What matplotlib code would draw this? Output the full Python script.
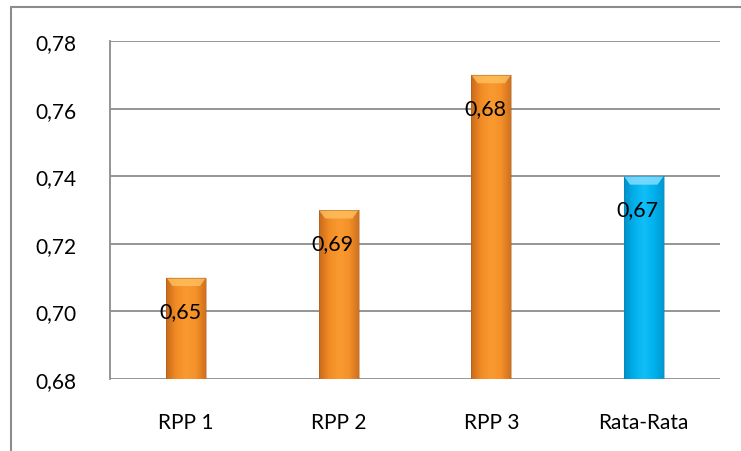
import numpy as np
import matplotlib
matplotlib.use("Agg")
import matplotlib.pyplot as plt
from matplotlib.patches import Rectangle, Polygon
from matplotlib.colors import LinearSegmentedColormap

# --- Data ---
categories = ["RPP 1", "RPP 2", "RPP 3", "Rata-Rata"]
bar_values = [0.71, 0.73, 0.77, 0.74]
label_texts = ["0,65", "0,69", "0,68", "0,67"]
yticks = [0.68, 0.70, 0.72, 0.74, 0.76, 0.78]

plt.rcParams["font.family"] = ["Lato", "DejaVu Sans"]

fig = plt.figure(figsize=(7.41, 4.52), dpi=100)
fig.patch.set_facecolor("white")

# --- Outer chart border ---
fig.patches.append(Rectangle((11 / 741, -0.05), 1.2, 1 - 8 / 452 + 0.05,
                             transform=fig.transFigure, fill=False,
                             edgecolor="#8c8c8c", linewidth=1.5))

ax = fig.add_axes([110 / 741, 72 / 452, 610 / 741, 338 / 452])

x = np.arange(len(categories))
width = 0.26
bars = ax.bar(x, [v - 0.68 for v in bar_values], width, bottom=0.68,
              color="none", edgecolor="none", zorder=3)

orange = LinearSegmentedColormap.from_list(
    "orange", ["#c86a1c", "#f28c24", "#f99a30", "#f5922a", "#d0701e"])
blue = LinearSegmentedColormap.from_list(
    "blue", ["#0090c8", "#00b0ec", "#12bef6", "#00b2ef", "#0098cf"])
grad = np.linspace(0, 1, 64).reshape(1, -1)

for i, (b, v) in enumerate(zip(bars, bar_values)):
    cmap = blue if i == len(bars) - 1 else orange
    x0, x1 = b.get_x(), b.get_x() + b.get_width()
    im = ax.imshow(grad, cmap=cmap, aspect="auto", extent=[x0, x1, 0.68, v],
                   zorder=3, interpolation="bicubic")
    im.set_clip_path(b)
    # lighter bevel at the top of each bar
    top_col = "#8ee0ff" if i == len(bars) - 1 else "#ffc060"
    d = 0.0025
    ax.add_patch(Polygon([[x0, v], [x1, v], [x1 - 0.04, v - d], [x0 + 0.04, v - d]],
                         closed=True, facecolor=top_col, edgecolor="none",
                         alpha=0.8, zorder=4))
    ax.add_patch(Rectangle((x0, 0.68), x1 - x0, v - 0.68, fill=False,
                           edgecolor="#9a5a20" if i < 3 else "#0a7fae",
                           linewidth=0.6, alpha=0.5, zorder=4))
    ax.text(b.get_x() + b.get_width() / 2 - 0.04, v - 0.0098, label_texts[i],
            ha="center", va="center", fontsize=15.5, color="black", zorder=5)

ax.set_xlim(-0.5, len(categories) - 0.5)
ax.set_ylim(0.68, 0.78)
ax.set_yticks(yticks)
ax.set_yticklabels([f"{t:.2f}".replace(".", ",") for t in yticks])
ax.set_xticks(x)
ax.set_xticklabels(categories)
ax.tick_params(axis="y", length=0, pad=24, labelsize=15)
ax.tick_params(axis="x", length=0, pad=24, labelsize=15)

ax.grid(axis="y", color="#8c8c8c", linewidth=1.3, zorder=1)
ax.set_axisbelow(True)
for side in ["top", "right", "bottom"]:
    ax.spines[side].set_visible(False)
ax.spines["left"].set_color("#8c8c8c")
ax.spines["left"].set_linewidth(1.3)

fig.savefig("out.png", dpi=100)
